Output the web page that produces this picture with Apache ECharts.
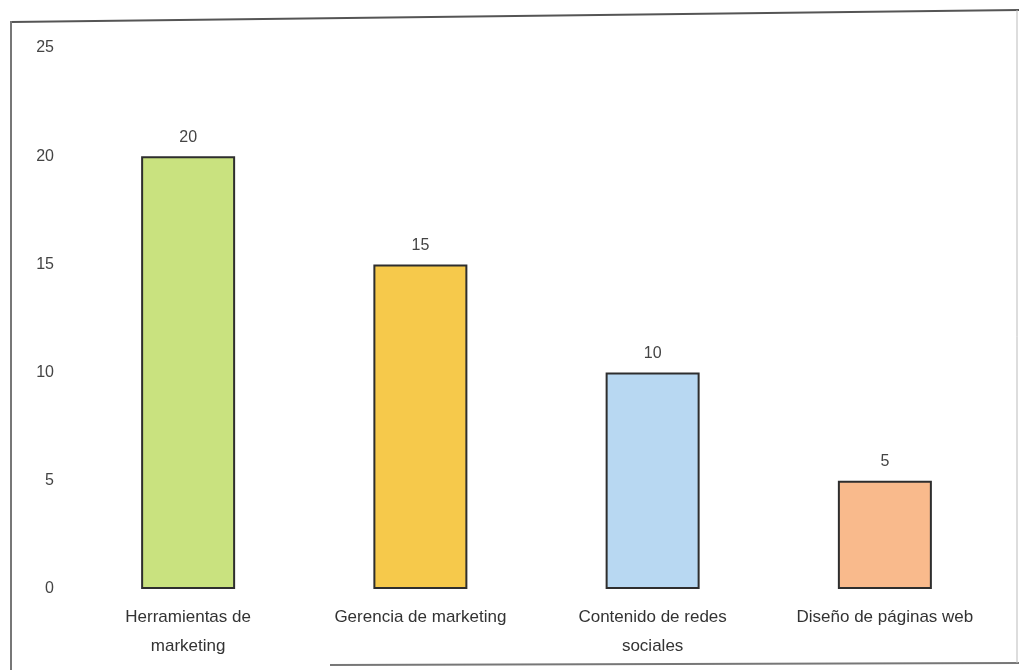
<!DOCTYPE html>
<html>
<head>
<meta charset="utf-8">
<style>
  html, body { margin: 0; padding: 0; background: #ffffff; }
  #chart { width: 1019px; height: 670px; }
</style>
<script src="https://cdn.jsdelivr.net/npm/echarts@6/dist/echarts.min.js"></script>
</head>
<body>
<div id="chart"></div>
<script>
const categories = ['Herramientas de\nmarketing', 'Gerencia de marketing', 'Contenido de redes\nsociales', 'Diseño de páginas web'];
const values = [20, 15, 10, 5];
const barColors = ['#c9e27f', '#f6c94b', '#b8d8f2', '#f9ba8c'];
const yTicks = [0, 5, 10, 15, 20, 25];

const chart = echarts.init(document.getElementById('chart'), null, { renderer: 'canvas' });
chart.setOption({
  backgroundColor: '#ffffff',
  animation: false,
  grid: { left: 72, right: 18, top: 48, bottom: 81, containLabel: false },
  xAxis: {
    type: 'category',
    data: categories,
    axisLine: { show: false },
    axisTick: { show: false },
    axisLabel: {
      margin: 14,
      fontFamily: 'Liberation Sans, Arial, sans-serif',
      fontSize: 17,
      color: '#333333',
      lineHeight: 29,
      interval: 0
    }
  },
  yAxis: {
    type: 'value',
    min: yTicks[0],
    max: yTicks[yTicks.length - 1],
    interval: 5,
    splitLine: { show: false },
    axisLine: { show: false },
    axisTick: { show: false },
    axisLabel: {
      margin: 18,
      fontFamily: 'Liberation Sans, Arial, sans-serif',
      fontSize: 16,
      color: '#444444'
    }
  },
  series: [{
    type: 'bar',
    barWidth: 94,
    data: values.map((v, i) => ({
      value: v,
      itemStyle: { color: barColors[i], borderColor: '#2e2e2e', borderWidth: 2 }
    })),
    label: {
      show: true,
      position: 'top',
      distance: 11,
      fontFamily: 'Liberation Sans, Arial, sans-serif',
      fontSize: 16,
      color: '#444444'
    }
  }],
  graphic: [
    { type: 'line', shape: { x1: 11, y1: 22, x2: 1019, y2: 10 }, style: { stroke: '#555555', lineWidth: 2 } },
    { type: 'line', shape: { x1: 11, y1: 21, x2: 11, y2: 670 }, style: { stroke: '#777777', lineWidth: 2 } },
    { type: 'line', shape: { x1: 330, y1: 665, x2: 1019, y2: 663 }, style: { stroke: '#777777', lineWidth: 2 } },
    { type: 'line', shape: { x1: 1017, y1: 10, x2: 1017, y2: 663 }, style: { stroke: '#bbbbbb', lineWidth: 1 } }
  ]
});
</script>
</body>
</html>
